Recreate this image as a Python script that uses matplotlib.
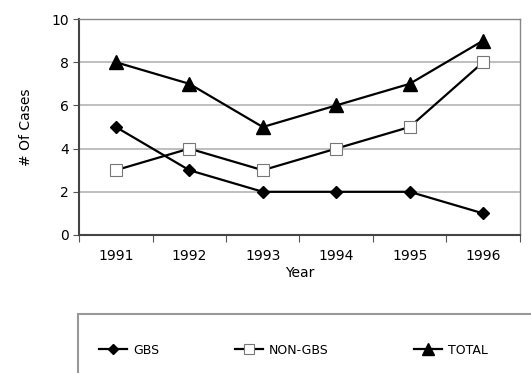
import matplotlib
matplotlib.use("Agg")
import matplotlib.pyplot as plt
from matplotlib.patches import Rectangle
import numpy as np

years = ["1991", "1992", "1993", "1994", "1995", "1996"]
gbs = [5, 3, 2, 2, 2, 1]
non_gbs = [3, 4, 3, 4, 5, 8]
total = [8, 7, 5, 6, 7, 9]

plt.rcParams["font.family"] = ["DejaVu Sans"]

fig = plt.figure(figsize=(5.31, 3.73), dpi=100)
ax = fig.add_axes([0.149, 0.370, 0.830, 0.579])

x = np.arange(len(years)) + 0.5

l1, = ax.plot(x, gbs, color="black", lw=1.6, marker="D", ms=6.5,
              mfc="black", mec="black", label="GBS")
l2, = ax.plot(x, non_gbs, color="black", lw=1.6, marker="s", ms=8,
              mfc="white", mec="#777777", mew=0.8, label="NON-GBS")
l3, = ax.plot(x, total, color="black", lw=1.6, marker="^", ms=9.5,
              mfc="black", mec="black", label="TOTAL")

ax.set_xlim(0, len(years))
ax.set_ylim(0, 10)
ax.set_yticks([0, 2, 4, 6, 8, 10])
ax.set_xticks(np.arange(len(years) + 1))
ax.set_xticklabels([])
ax.set_xticks(x, minor=True)
ax.set_xticklabels(years, minor=True)
ax.tick_params(axis="x", which="minor", length=0, pad=10, labelsize=10)
ax.tick_params(axis="x", which="major", length=5, direction="out", color="#555555")
ax.tick_params(axis="y", length=4, direction="out", color="#555555", labelsize=10)

ax.grid(axis="y", color="#b4b4b4", lw=1.2)
ax.set_axisbelow(True)
for side in ["left", "bottom"]:
    ax.spines[side].set_color("#444444")
    ax.spines[side].set_linewidth(1.5)
for side in ["top", "right"]:
    ax.spines[side].set_color("#888888")
    ax.spines[side].set_linewidth(1.0)

ax.set_xlabel("Year", fontsize=10, labelpad=2)
ax.set_ylabel("# Of Cases", fontsize=10, labelpad=13)

# legend box, cut off at the right and bottom edges
fig.patches.append(Rectangle((78 / 531, -0.1), 1.0, 1 - 314 / 373 + 0.1,
                             transform=fig.transFigure, fill=False,
                             edgecolor="#999999", lw=1.5))

# one small legend per series so each entry sits where it does in the source
for handle, left in [(l1, 88), (l2, 224), (l3, 403)]:
    fig.legend(handles=[handle], loc="center left",
               bbox_to_anchor=(left / 531, 1 - 350 / 373), frameon=False,
               fontsize=9, handlelength=2.2, handletextpad=0.5,
               markerscale=0.85)

fig.savefig("out.png", dpi=100)
